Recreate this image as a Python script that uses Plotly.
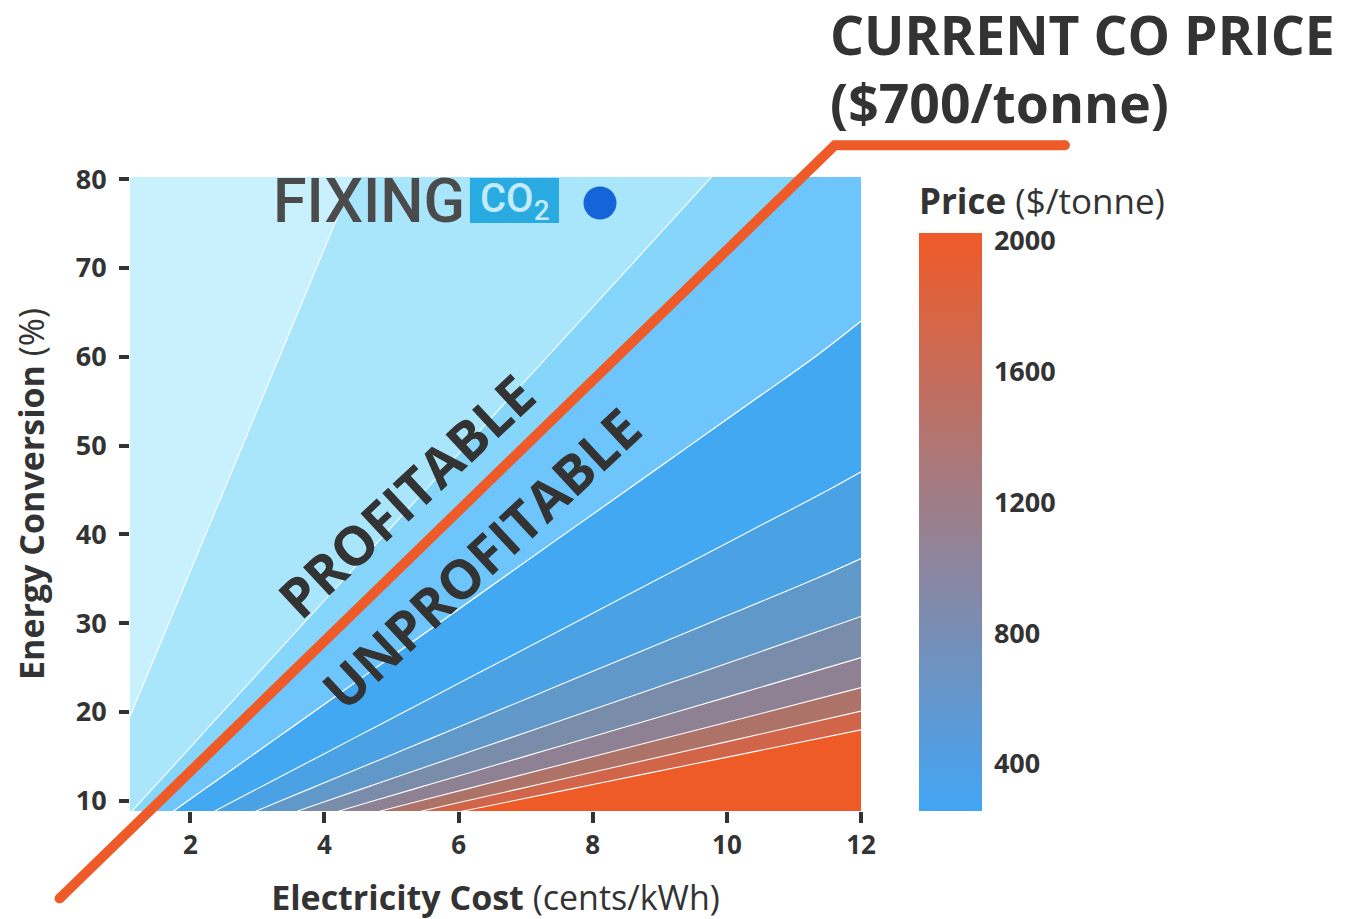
import plotly.graph_objects as go

# ---------------- data ----------------
# Price surface ($/tonne) on a grid of electricity cost (columns) x energy conversion (rows)
electricity_cost = [1.1, 12.0]                      # cents/kWh (left / right edge of the surface)
energy_conversion = [8.8, 10, 12, 14, 16, 18, 20, 23, 26, 30, 35, 40, 45, 50, 55, 60, 70, 80.3]  # %
price_low_cost = [354.8, 314.3, 264.0, 227.6, 200.0, 178.4, 161.0, 140.4, 124.5, 108.2,
                  93.0, 81.5, 72.5, 65.3, 59.5, 54.5, 46.8, 40.8]
price_high_cost = [3871.0, 3428.6, 2880.0, 2482.8, 2181.8, 1945.9, 1756.1, 1531.9, 1358.5, 1180.3,
                   1014.1, 888.9, 791.2, 712.9, 648.6, 595.0, 510.6, 445.5]

# contour levels
level_start, level_end, level_size = 165, 1947, 198
co_band = [416, 561]          # band just above the current CO price line

# colours of the filled bands (lowest price -> highest price)
band_colors = ['#c9f0fd', '#a9e6fc', '#86d5fb', '#41a8f1', '#4aa2e4', '#5f98c9',
               '#798caa', '#8e8193', '#ad7369', '#d0654a', '#ef5b27']
co_band_color = '#6dc5fb'

# colour bar
cbar_min, cbar_max = 256, 2024
cbar_ticks = [400, 800, 1200, 1600, 2000]

# axes
x_ticks = [2, 4, 6, 8, 10, 12]
y_ticks = [10, 20, 30, 40, 50, 60, 70, 80]
x_range = [1.1, 12.0]
y_range = [8.85, 80.25]

# "current CO price" call-out line (cost, conversion) and its label end
co_line_cost = [0.05, 11.61]
co_line_conv = [-1.0, 83.83]
co_label_end = 1.279   # paper x

TXT = '#333333'
ORANGE = '#ef5b28'
FONT = 'Open Sans'

z = [[a, b] for a, b in zip(price_low_cost, price_high_cost)]

n = len(band_colors) - 1
colorscale = []
eps = 1e-4
for j, c in enumerate(band_colors):
    lo = max(0.0, (j - 0.5) / n + (eps if j > 0 else 0))
    hi = min(1.0, (j + 0.5) / n)
    colorscale.append([lo, c])
    colorscale.append([hi, c])

fig = go.Figure()

fig.add_trace(go.Contour(
    x=electricity_cost, y=energy_conversion, z=z,
    autocontour=False,
    contours=dict(start=level_start, end=level_end, size=level_size,
                  coloring='fill', showlines=True),
    line=dict(color='white', width=1.1),
    colorscale=colorscale, showscale=False, showlegend=False, hoverinfo='skip'))

# constraint contours shade the region that fails the test -> "outside" shades the band itself
fig.add_trace(go.Contour(
    x=electricity_cost, y=energy_conversion, z=z,
    contours=dict(type='constraint', operation='][', value=co_band),
    fillcolor=co_band_color,
    line=dict(color='white', width=1.1),
    showscale=False, showlegend=False, hoverinfo='skip'))

fig.add_trace(go.Scatter(
    x=[None], y=[None], mode='markers', showlegend=False, hoverinfo='skip',
    marker=dict(color=[cbar_min], cmin=cbar_min, cmax=cbar_max,
                colorscale=[[0, '#42a5f5'], [1, '#f05a28']], showscale=True,
                colorbar=dict(thickness=63, thicknessmode='pixels',
                              len=578, lenmode='pixels',
                              x=(919 - 130) / 731, xanchor='left', xpad=0,
                              y=0, yanchor='bottom', ypad=0,
                              outlinewidth=0, ticks='outside', ticklen=7,
                              tickcolor='rgba(0,0,0,0)', tickvals=cbar_ticks,
                              tickfont=dict(family=FONT, size=27, color=TXT, weight='bold')))))

def px_(x):
    return (x - x_range[0]) / (x_range[1] - x_range[0])

def py_(y):
    return (y - y_range[0]) / (y_range[1] - y_range[0])

p0 = (px_(co_line_cost[0]), py_(co_line_conv[0]))
p1 = (px_(co_line_cost[1]), py_(co_line_conv[1]))
p2 = (co_label_end, py_(co_line_conv[1]))

shapes = [
    dict(type='path', xref='paper', yref='paper',
         path=f'M {p0[0]} {p0[1]} L {p1[0]} {p1[1]} L {p2[0]} {p2[1]}',
         line=dict(color=ORANGE, width=10)),
]
for p in (p0, p2):
    shapes.append(dict(type='circle', xref='paper', yref='paper',
                       xsizemode='pixel', ysizemode='pixel',
                       xanchor=p[0], yanchor=p[1], x0=-5, x1=5, y0=-5, y1=5,
                       fillcolor=ORANGE, line=dict(width=0)))
# logo box and dot
shapes.append(dict(type='rect', xref='paper', yref='paper',
                   x0=(470 - 130) / 731, x1=(559 - 130) / 731,
                   y0=(811 - 223) / 634, y1=(811 - 178) / 634,
                   fillcolor='#29abe2', line=dict(width=0)))
shapes.append(dict(type='circle', xref='paper', yref='paper',
                   xsizemode='pixel', ysizemode='pixel',
                   xanchor=(600 - 130) / 731, yanchor=(811 - 203) / 634,
                   x0=-16.5, x1=16.5, y0=-16.5, y1=16.5,
                   fillcolor='#1565d8', line=dict(width=0)))

annotations = [
    dict(text='<b>CURRENT CO PRICE</b>', xref='paper', yref='paper',
         x=(828 - 130) / 731, y=(811 - 34) / 634, xanchor='left', yanchor='middle',
         showarrow=False, font=dict(family=FONT, size=53.5, color=TXT)),
    dict(text='<b>($700/tonne)</b>', xref='paper', yref='paper',
         x=(828 - 130) / 731, y=(811 - 102) / 634, xanchor='left', yanchor='middle',
         showarrow=False, font=dict(family=FONT, size=53.5, color=TXT)),
    dict(text='<b>PROFITABLE</b>', xref='x', yref='y', x=5.22, y=44.4,
         textangle=-43, showarrow=False, font=dict(family=FONT, size=54, color=TXT)),
    dict(text='<b>UNPROFITABLE</b>', xref='x', yref='y', x=6.33, y=37.3,
         textangle=-43, showarrow=False, font=dict(family=FONT, size=54, color=TXT)),
    dict(text='<b>Price</b> ($/tonne)', xref='paper', yref='paper',
         x=(917 - 130) / 731, y=(811 - 200) / 634, xanchor='left', yanchor='middle',
         showarrow=False, font=dict(family=FONT, size=35, color=TXT)),
    dict(text='FIXING', xref='paper', yref='paper',
         x=(271 - 130) / 731, y=(811 - 201) / 634, xanchor='left', yanchor='middle',
         showarrow=False, font=dict(family='Roboto', size=61, color='#4b4b4b', weight=500)),
    dict(text='CO<sub>2</sub>', xref='paper', yref='paper',
         x=(514.5 - 130) / 731, y=(811 - 201) / 634, xanchor='center', yanchor='middle',
         showarrow=False, font=dict(family='Roboto', size=40, color='#c3ebfa', weight=500)),
]

fig.update_layout(
    width=1350, height=919,
    margin=dict(l=122, r=497, t=169, b=116),
    paper_bgcolor='white', plot_bgcolor='white',
    font=dict(family=FONT, color=TXT),
    hovermode=False, showlegend=False,
    shapes=shapes, annotations=annotations,
    xaxis=dict(range=x_range, tickvals=x_ticks, ticks='outside', ticklen=11, tickwidth=4,
               tickcolor=TXT, showgrid=False, zeroline=False, showline=False,
               ticklabelstandoff=0,
               tickfont=dict(family=FONT, size=26, color=TXT, weight='bold'),
               title=dict(text='<b>Electricity Cost</b> (cents/kWh)', standoff=24,
                          font=dict(family=FONT, size=34, color=TXT))),
    yaxis=dict(range=y_range, tickvals=y_ticks, ticks='outside', ticklen=10, tickwidth=4,
               tickcolor=TXT, showgrid=False, zeroline=False, showline=False,
               ticklabelstandoff=7,
               tickfont=dict(family=FONT, size=27, color=TXT, weight='bold'),
               title=dict(text='<b>Energy Conversion</b> (%)', standoff=22,
                          font=dict(family=FONT, size=34, color=TXT))),
)

fig.write_html('out.html')
